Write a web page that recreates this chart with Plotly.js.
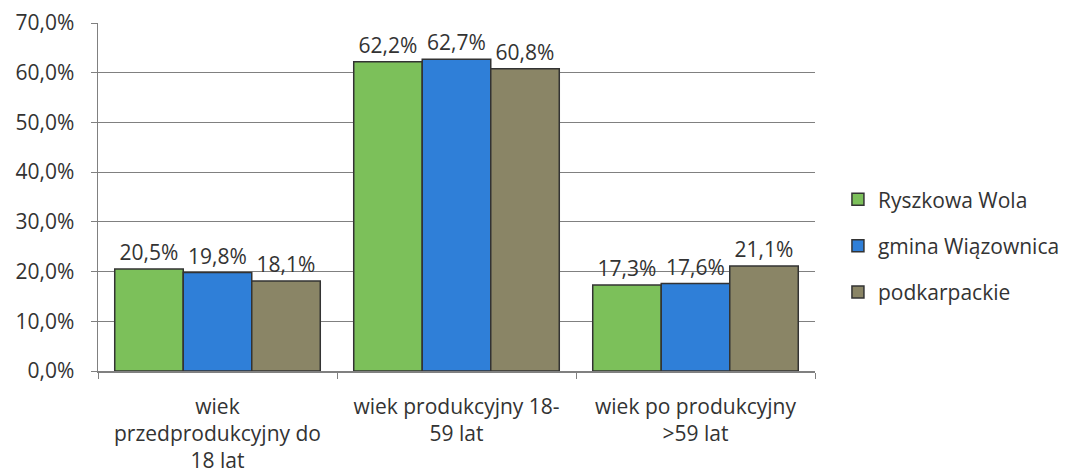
<!DOCTYPE html>
<html>
<head>
<meta charset="utf-8">
<script src="https://cdn.plot.ly/plotly-3.0.1.min.js"></script>
<style>html,body{margin:0;padding:0;background:#fff}#chart{width:1077px;height:476px}</style>
</head>
<body>
<div id="chart"></div>
<script>
const categories = ["wiek<br>przedprodukcyjny do<br>18 lat", "wiek produkcyjny 18-<br>59 lat", "wiek po produkcyjny<br>>59 lat"];
const seriesNames = ["Ryszkowa Wola", "gmina Wiązownica", "podkarpackie"];
const ryszkowaWola = [20.5, 62.2, 17.3];
const gminaWiazownica = [19.8, 62.7, 17.6];
const podkarpackie = [18.1, 60.8, 21.1];
const colors = ["#7cc05a", "#2f7fd8", "#8a8566"];
const yTicks = [0, 10, 20, 30, 40, 50, 60, 70];

const fmt = v => v.toFixed(1).replace('.', ',') + '%';
const font = "Open Sans, Liberation Sans, sans-serif";
const txt = '#333';
const series = [ryszkowaWola, gminaWiazownica, podkarpackie];
const traces = series.map((vals, i) => ({
  type: 'bar',
  name: seriesNames[i],
  x: categories,
  y: vals,
  text: vals.map(fmt),
  textposition: 'outside',
  cliponaxis: false,
  textfont: {family: font, size: 21, color: txt},
  marker: {color: colors[i], line: {color: '#333', width: 1.5}},
  legendgroup: 'g' + i,
  hoverinfo: 'skip'
}));

const layout = {
  width: 1077, height: 476,
  margin: {l: 98, r: 259, t: 23, b: 105},
  paper_bgcolor: '#fff', plot_bgcolor: '#fff',
  separators: ', ',
  barmode: 'group',
  bargap: 0.14,
  bargroupgap: 0,
  font: {family: font, size: 21, color: txt},
  showlegend: true,
  legend: {x: 1.032, xanchor: 'left', y: 0.36, yanchor: 'middle', traceorder: 'grouped', tracegroupgap: 16, font: {family: font, size: 21, color: txt}, itemwidth: 30},
  xaxis: {
    type: 'category', tickson: 'boundaries', ticks: 'outside', ticklen: 6, tickcolor: '#808080',
    showline: true, linecolor: '#808080', linewidth: 1.5, showgrid: false,
    ticklabelstandoff: 16,
    tickfont: {family: font, size: 21, color: txt}, fixedrange: true
  },
  yaxis: {
    range: [0, 70], tickvals: yTicks, ticktext: yTicks.map(v => v.toFixed(1).replace('.', ',') + '%'),
    ticks: 'outside', ticklen: 6, tickcolor: '#808080',
    showline: true, linecolor: '#808080', linewidth: 1.5,
    showgrid: true, gridcolor: '#808080', gridwidth: 1.2, zeroline: false,
    ticklabelstandoff: 12,
    tickfont: {family: font, size: 21, color: txt}, fixedrange: true
  }
};
Plotly.newPlot('chart', traces, layout, {displayModeBar: false, staticPlot: true});
</script>
</body>
</html>
